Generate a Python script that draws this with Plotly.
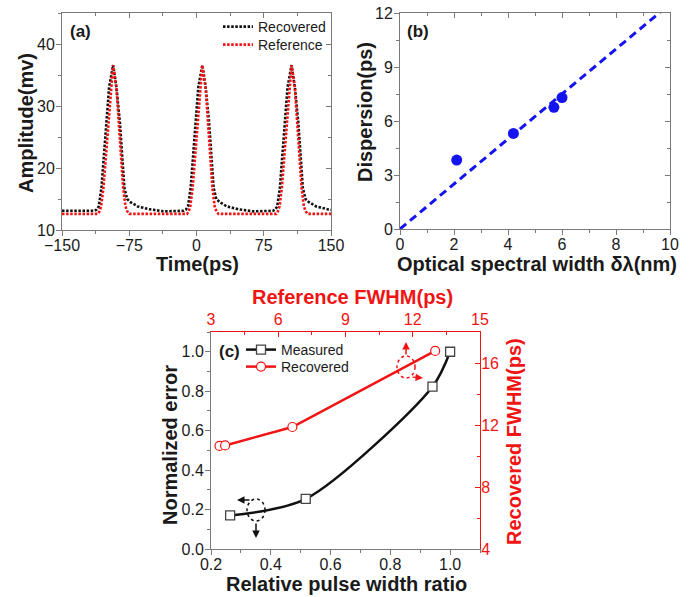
import plotly.graph_objects as go

# ---------------- data ----------------
# (a) pulse trains: one tabulated pulse profile (offset from peak, amplitude) per trace
PULSE_CENTERS = [-93.0, 6.5, 106.0]
T_START, T_END = -150.0, 150.0
REC_BASE = 13.1
REF_BASE = 12.6
REC_OFFSETS = [-30, -20.8, -18.3, -16.0, -13.0, -10.0, -7.4, -4.5, 0, 3.7, 7.4, 10.0, 12.6, 15.6, 19.3, 27.5, 40, 57]
REC_AMPS = [13.1, 13.1, 13.3, 13.8, 16.8, 22.2, 27.6, 33.0, 36.6, 33.0, 27.6, 22.2, 16.8, 15.0, 14.5, 13.8, 13.35, 13.0]
REF_OFFSETS = [-30, -17.0, -15.2, -13.4, -10.8, -7.8, -5.2, -2.2, 0, 3.7, 6.3, 8.5, 11.2, 13.8, 15.8, 18.0, 30]
REF_AMPS = [12.6, 12.6, 13.0, 13.8, 16.8, 22.2, 27.6, 33.0, 36.6, 33.0, 27.6, 22.2, 16.8, 13.8, 13.0, 12.6, 12.6]

# (b) dispersion vs optical spectral width
SPEC_WIDTH = [2.1, 4.2, 5.7, 6.0]
DISPERSION = [3.83, 5.31, 6.76, 7.30]
FIT_X = [0.0, 10.0]
FIT_Y = [0.0, 12.5]

# (c) normalized error and FWHM
RATIO = [0.264, 0.517, 0.941, 1.0]
NORM_ERR = [0.17, 0.254, 0.823, 1.0]
REF_FWHM = [3.38, 3.63, 6.63, 13.0]
REC_FWHM = [10.65, 10.68, 11.87, 16.78]

# tick labels
A_XTICKS = [-150, -75, 0, 75, 150]
A_YTICKS = [10, 20, 30, 40]
B_XTICKS = [0, 2, 4, 6, 8, 10]
B_YTICKS = [0, 3, 6, 9, 12]
C_XTICKS = [0.2, 0.4, 0.6, 0.8, 1.0]
C_YTICKS = [0.0, 0.2, 0.4, 0.6, 0.8, 1.0]
C_TOPTICKS = [3, 6, 9, 12, 15]
C_RTICKS = [4, 8, 12, 16]

# ---------------- build pulse traces ----------------
def build(offsets, amps, base):
    xs, ys = [T_START], [base]
    for c in PULSE_CENTERS:
        for o, a in zip(offsets, amps):
            xs.append(c + o)
            ys.append(a)
    xs.append(T_END)
    ys.append(amps[-1])
    return xs, ys

rec_x, rec_y = build(REC_OFFSETS, REC_AMPS, REC_BASE)
ref_x, ref_y = build(REF_OFFSETS, REF_AMPS, REF_BASE)

W, H = 692, 597
FONT = "Liberation Sans, Arial, sans-serif"
RED = "#f01414"
BLUE = "#1414f0"
AXC = "#7a7a7a"
TXT = "#1a1a1a"


def fx(p):
    return p / W


def fy(p):
    return 1 - p / H


fig = go.Figure()

# (a)
fig.add_trace(go.Scatter(x=rec_x, y=rec_y, mode="lines", name="Recovered",
                         line=dict(color="#111111", width=2.6, dash="2.5px,1.6px"),
                         xaxis="x", yaxis="y", legend="legend"))
fig.add_trace(go.Scatter(x=ref_x, y=ref_y, mode="lines", name="Reference",
                         line=dict(color=RED, width=2.6, dash="2.5px,1.6px"),
                         xaxis="x", yaxis="y", legend="legend3"))
# (b)
fig.add_trace(go.Scatter(x=FIT_X, y=FIT_Y, mode="lines", showlegend=False,
                         line=dict(color=BLUE, width=3, dash="8px,5px"),
                         xaxis="x2", yaxis="y2"))
fig.add_trace(go.Scatter(x=SPEC_WIDTH, y=DISPERSION, mode="markers", showlegend=False,
                         marker=dict(color=BLUE, size=11),
                         xaxis="x2", yaxis="y2"))
# (c)
fig.add_trace(go.Scatter(x=RATIO, y=NORM_ERR, mode="lines+markers", name="Measured",
                         line=dict(color="#111111", width=2.5, shape="spline", smoothing=0.8),
                         marker=dict(symbol="square", size=9, color="white",
                                     line=dict(color="#444444", width=1.3)),
                         xaxis="x3", yaxis="y3", legend="legend2"))
fig.add_trace(go.Scatter(x=REF_FWHM, y=REC_FWHM, mode="lines+markers", name="Recovered",
                         line=dict(color=RED, width=2.5),
                         marker=dict(symbol="circle", size=9, color="white",
                                     line=dict(color=RED, width=1.2)),
                         xaxis="x4", yaxis="y4", legend="legend4"))
# dummy traces for mirrored inside-tick axes of (a) and (b)
fig.add_trace(go.Scatter(x=[None], y=[None], xaxis="x5", yaxis="y5", showlegend=False, hoverinfo="skip"))
fig.add_trace(go.Scatter(x=[None], y=[None], xaxis="x6", yaxis="y6", showlegend=False, hoverinfo="skip"))

TICK_SIZE = 16
TITLE_SIZE = 20


def main_axis(domain, rng, tickvals, minor_dtick, anchor, color=AXC, tcolor=TXT,
              side=None, ticks="outside", overlaying=None, fmt=None, lstand=0):
    d = dict(domain=domain, range=rng, tickvals=tickvals, ticks=ticks, ticklen=5,
             tickwidth=1, tickcolor=color, showline=True, linecolor=color, linewidth=1,
             showgrid=False, zeroline=False, anchor=anchor, automargin=False,
             ticklabelstandoff=lstand,
             tickfont=dict(family=FONT, size=TICK_SIZE, color=tcolor),
             minor=dict(ticks=ticks, ticklen=3, dtick=minor_dtick, tick0=tickvals[0],
                        tickcolor=color, showgrid=False))
    if side:
        d["side"] = side
    if overlaying:
        d["overlaying"] = overlaying
    if fmt:
        d["tickformat"] = fmt
    return d


def mirror_axis(rng, tickvals, minor_dtick, anchor, side, overlaying):
    return dict(range=rng, tickvals=tickvals, ticks="inside", ticklen=5, tickwidth=1,
                tickcolor=AXC, showline=True, linecolor=AXC, linewidth=1,
                showticklabels=False, showgrid=False, zeroline=False, automargin=False,
                anchor=anchor, side=side, overlaying=overlaying,
                minor=dict(ticks="inside", ticklen=3, dtick=minor_dtick, tick0=tickvals[0],
                           tickcolor=AXC, showgrid=False))


A_DX = [fx(62), fx(331)]
A_DY = [fy(230), fy(13)]
B_DX = [fx(400), fx(670)]
B_DY = [fy(229), fy(13)]
C_DX = [fx(211), fx(480)]
C_DY = [fy(549), fy(332)]


def leg(px, py):
    return dict(x=fx(px), y=fy(py), xanchor="left", yanchor="middle",
                bgcolor="rgba(0,0,0,0)", font=dict(family=FONT, size=14, color=TXT),
                tracegroupgap=0, itemwidth=30, borderwidth=0)


fig.update_layout(
    template="none",
    width=W, height=H,
    margin=dict(l=0, r=0, t=0, b=0, autoexpand=False),
    paper_bgcolor="white", plot_bgcolor="white",
    font=dict(family=FONT, color=TXT),
    hovermode=False,
    xaxis=main_axis(A_DX, [-150, 150], A_XTICKS, 37.5, "y", lstand=-4),
    yaxis=main_axis(A_DY, [10, 45], A_YTICKS, 5, "x", lstand=-2),
    xaxis5=mirror_axis([-150, 150], A_XTICKS, 37.5, "y", "top", "x"),
    yaxis5=mirror_axis([10, 45], A_YTICKS, 5, "x", "right", "y"),
    xaxis2=main_axis(B_DX, [0, 10], B_XTICKS, 1, "y2", lstand=-4),
    yaxis2=main_axis(B_DY, [0, 12], B_YTICKS, 1.5, "x2", lstand=-2),
    xaxis6=mirror_axis([0, 10], B_XTICKS, 1, "y2", "top", "x2"),
    yaxis6=mirror_axis([0, 12], B_YTICKS, 1.5, "x2", "right", "y2"),
    xaxis3=main_axis(C_DX, [0.2, 1.1], C_XTICKS, 0.1, "y3", fmt=".1f", lstand=-4),
    yaxis3=main_axis(C_DY, [0, 1.1], C_YTICKS, 0.1, "x3", fmt=".1f", lstand=-2),
    xaxis4=main_axis(C_DX, [3, 15], C_TOPTICKS, 1.5, "y4", color=RED, tcolor=RED,
                     side="top", ticks="inside", overlaying="x3"),
    yaxis4=main_axis(C_DY, [4, 18], C_RTICKS, 2, "x4", color=RED, tcolor=RED,
                     side="right", ticks="inside", overlaying="y3", lstand=-3),
    legend=leg(218, 27),
    legend3=leg(218, 45),
    legend2=leg(241, 350),
    legend4=leg(241, 367),
)

# axis titles and panel labels
TITLES = [
    ("<b>Time(ps)</b>", 197, 264, 0, TXT),
    ("<b>Amplitude(mv)</b>", 26, 123, -90, TXT),
    ("<b>Optical spectral width δλ(nm)</b>", 537, 264, 0, TXT),
    ("<b>Dispersion(ps)</b>", 365, 112, -90, TXT),
    ("<b>Relative pulse width ratio</b>", 346, 584, 0, TXT),
    ("<b>Normalized error</b>", 170, 445, -90, TXT),
    ("<b>Reference FWHM(ps)</b>", 352, 297, 0, RED),
    ("<b>Recovered FWHM(ps)</b>", 514, 442, -90, RED),
]
for txt, px, py, ang, col in TITLES:
    fig.add_annotation(text=txt, x=fx(px), y=fy(py), xref="paper", yref="paper",
                       xanchor="center", yanchor="middle", showarrow=False, textangle=ang,
                       font=dict(family=FONT, size=TITLE_SIZE, color=col))

for txt, px, py in [("(a)", 80, 32), ("(b)", 418, 31), ("(c)", 229, 351)]:
    fig.add_annotation(text="<b>%s</b>" % txt, x=fx(px), y=fy(py), xref="paper", yref="paper",
                       xanchor="center", yanchor="middle", showarrow=False,
                       font=dict(family=FONT, size=17, color=TXT))

# dotted ellipses with axis-indicating arrows in (c)
fig.add_shape(type="circle", xref="paper", yref="paper",
              x0=fx(247), x1=fx(265), y0=fy(521), y1=fy(499),
              line=dict(color="#111111", width=1.5, dash="dot"))
fig.add_shape(type="circle", xref="paper", yref="paper",
              x0=fx(397), x1=fx(415), y0=fy(378), y1=fy(356),
              line=dict(color=RED, width=1.5, dash="dot"))
for hx, hy, ax, ay, col in [(237, 500, 14, 0, "#111111"), (256, 538, 0, -16, "#111111"),
                            (406, 342, 0, 14, RED), (423, 378, -12, -1, RED)]:
    fig.add_annotation(x=fx(hx), y=fy(hy), xref="paper", yref="paper", text="",
                       showarrow=True, ax=ax, ay=ay, arrowhead=2, arrowsize=1,
                       arrowwidth=1.5, arrowcolor=col)

fig.write_html("out.html", config={"displayModeBar": False},
               post_script="document.body.style.margin='0px';")
